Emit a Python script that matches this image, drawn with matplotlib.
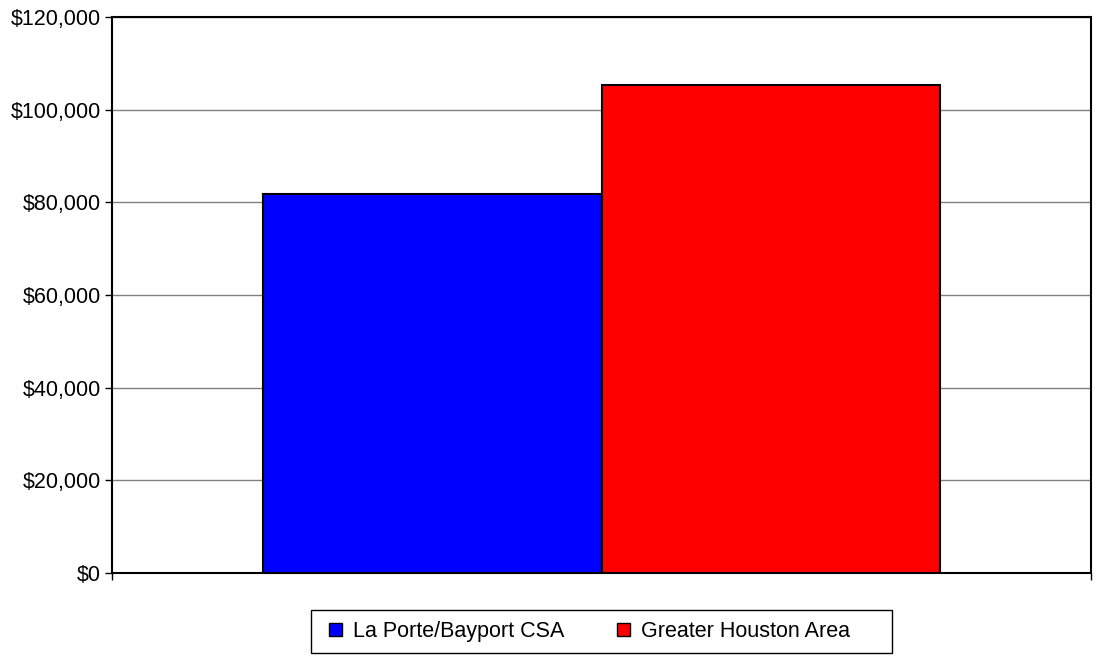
import matplotlib
matplotlib.use("Agg")
import matplotlib.pyplot as plt
from matplotlib.patches import Rectangle
from matplotlib.ticker import FuncFormatter

series = ["La Porte/Bayport CSA", "Greater Houston Area"]
values = [81800, 105300]
colors = ["#0000FF", "#FF0000"]
yticks = [0, 20000, 40000, 60000, 80000, 100000, 120000]

plt.rcParams['font.family'] = ['Liberation Sans', 'DejaVu Sans']
fig = plt.figure(figsize=(10.98, 6.62), dpi=100)
W, H = 1098, 662
ax = fig.add_axes([112 / W, (H - 573) / H, (1091 - 112) / W, (573 - 17) / H])

xs = [0, 1]
handles = []
for x, v, c, s in zip(xs, values, colors, series):
    b = ax.bar(x, v, width=1.0, color=c, edgecolor="black", linewidth=1.5, label=s, zorder=3)
    handles.append(b)

ax.set_ylim(0, 120000)
ax.set_xlim(-0.946, 1.946)
ax.set_yticks(yticks)
ax.yaxis.set_major_formatter(FuncFormatter(lambda v, p: "${:,.0f}".format(v)))
ax.yaxis.grid(True, color="#808080", linewidth=1.0, zorder=0)
ax.set_axisbelow(True)
ax.set_xticks([-0.946, 1.946])
ax.set_xticklabels(["", ""])
ax.tick_params(axis="both", direction="out", length=5, width=1, colors="black", labelsize=15.5, pad=3)
for sp in ax.spines.values():
    sp.set_linewidth(1.5)
    sp.set_color("black")

# legend frame (Excel-style, asymmetric padding)
fig.patches.append(Rectangle((311 / W, 1 - 653 / H), (892 - 311) / W, (653 - 610) / H,
                             transform=fig.transFigure, fill=True, facecolor="white",
                             edgecolor="black", linewidth=1.0, zorder=1))
leg = fig.legend(handles=handles, labels=series, loc="center",
                 bbox_to_anchor=(589.5 / W, 1 - 631.5 / H),
                 ncol=2, frameon=False, fontsize=15.5,
                 handlelength=0.6, handleheight=0.6, handletextpad=0.5,
                 columnspacing=2.46, borderpad=0, borderaxespad=0)
leg.set_zorder(2)
for h in leg.legend_handles:
    h.set_linewidth(1.0)

fig.savefig("out.png", dpi=100)
